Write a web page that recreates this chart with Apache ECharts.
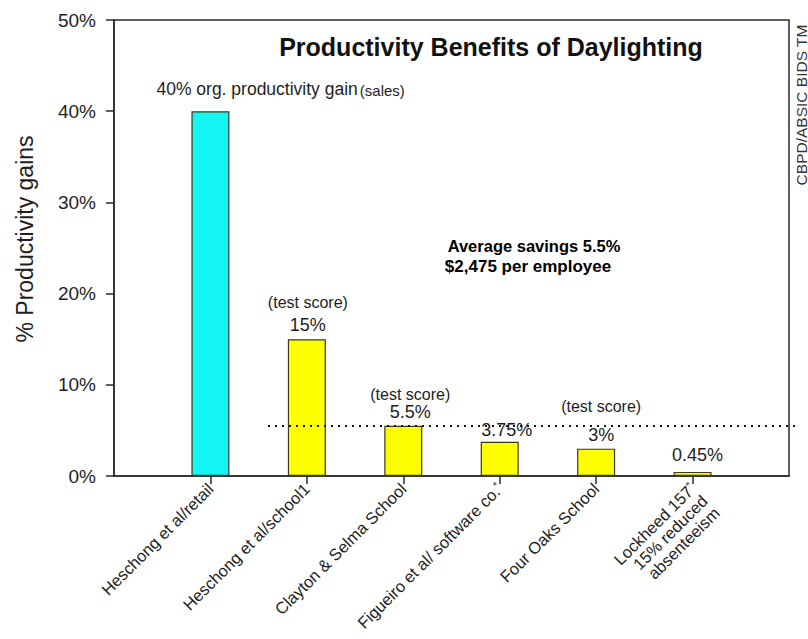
<!DOCTYPE html>
<html>
<head>
<meta charset="utf-8">
<script src="https://cdn.jsdelivr.net/npm/echarts@6/dist/echarts.min.js"></script>
<style>
html,body{margin:0;padding:0;background:#fff;}
#chart{width:808px;height:639px;}
</style>
</head>
<body>
<div id="chart"></div>
<script>
// ---- data ----
const categories = [
  'Heschong et al/retail',
  'Heschong et al/school1',
  'Clayton & Selma School',
  'Figueiro et al/ software co.*',
  'Four Oaks School',
  'Lockheed 157*\n15% reduced\nabsenteeism'
];
const values = [40, 15, 5.5, 3.75, 3, 0.45];
const valueLabels = ['40% org. productivity gain', '15%', '5.5%', '3.75%', '3%', '0.45%'];
const noteLabels = ['(sales)', '(test score)', '(test score)', '', '(test score)', ''];
const yTicks = [0, 10, 20, 30, 40, 50];
const averageValue = 5.5;
const titleText = 'Productivity Benefits of Daylighting';
const averageNote = ['Average savings 5.5%', '$2,475 per employee'];
const yAxisName = '% Productivity gains';
const creditText = 'CBPD/ABSIC BIDS TM';

// ---- build ----
const FONT = '"Liberation Sans", Arial, Helvetica, sans-serif';
const TXT = '#1e1e1e';
const axisCats = [''].concat(categories, ['']);

function labelFor(i) {
  const v = valueLabels[i], n = noteLabels[i];
  if (i === 0) {
    return {
      show: true, position: [-35, -22], align: 'left', verticalAlign: 'middle',
      formatter: '{m|' + v + '}{s|' + n + '}'
    };
  }
  const offsets = [null, [1, 0], [7, 0], [7, 2], [5, 0], [5, -3]];
  const noteStyle = [null, 'n24', 'n12', null, 'n35', null];
  return {
    show: true, position: 'top', distance: 3, offset: offsets[i],
    formatter: n ? '{' + noteStyle[i] + '|' + n + '}\n{v|' + v + '}' : '{v|' + v + '}'
  };
}

const barData = [{ value: '-' }];
values.forEach(function (v, i) {
  barData.push({
    value: v,
    itemStyle: { color: i === 0 ? '#14f4f4' : '#ffff00' },
    label: labelFor(i)
  });
});
barData.push({ value: '-' });

function xLabelFormatter(val) {
  if (!val) return '';
  const lines = val.split('\n');
  const fmt = lines.map(function (l) { return l.replace('*', '{s|*}'); });
  if (lines.length === 3) return '\n\n' + fmt.join('\n');
  return fmt.join('\n');
}

const chart = echarts.init(document.getElementById('chart'), null, { renderer: 'svg' });
chart.setOption({
  animation: false,
  backgroundColor: '#ffffff',
  textStyle: { fontFamily: FONT },
  grid: {
    left: 114, right: 19, top: 20, bottom: 163,
    show: true, borderColor: '#2a2a2a', borderWidth: 1.5, backgroundColor: 'transparent'
  },
  xAxis: {
    type: 'category',
    data: axisCats,
    boundaryGap: false,
    axisLine: { show: true, lineStyle: { color: '#2a2a2a', width: 1.5 } },
    axisTick: {
      show: true, length: 8, lineStyle: { color: '#2a2a2a', width: 1.5 },
      interval: function (i) { return i > 0 && i < axisCats.length - 1; }
    },
    axisLabel: {
      interval: 0, rotate: 45, margin: 10, fontSize: 16.5, color: TXT, fontFamily: FONT,
      formatter: xLabelFormatter,
      rich: { s: { fontSize: 10, verticalAlign: 'top', color: TXT, fontFamily: FONT } }
    },
    splitLine: { show: false }
  },
  yAxis: {
    type: 'value',
    min: yTicks[0], max: yTicks[yTicks.length - 1], interval: yTicks[1] - yTicks[0],
    name: yAxisName, nameLocation: 'middle', nameGap: 78, nameRotate: 90,
    nameTextStyle: { fontSize: 23, color: TXT, fontFamily: FONT, padding: [0, 0, 0, 18] },
    axisLine: { show: true, lineStyle: { color: '#2a2a2a', width: 1.5 } },
    axisTick: { show: true, inside: false, length: 8, lineStyle: { color: '#2a2a2a', width: 1.5 } },
    axisLabel: { fontSize: 19, color: TXT, margin: 18, fontFamily: FONT, formatter: '{value}%' },
    splitLine: { show: false }
  },
  series: [{
    type: 'bar',
    data: barData,
    barWidth: 38,
    itemStyle: { borderColor: '#3a3a1a', borderWidth: 1.2 },
    label: {
      color: TXT, fontFamily: FONT,
      rich: {
        m: { fontSize: 17.5, color: TXT, fontFamily: FONT },
        s: { fontSize: 15, color: TXT, fontFamily: FONT, padding: [2, 0, 0, 2] },
        v: { fontSize: 18, lineHeight: 22, color: TXT, fontFamily: FONT, align: 'center' },
        n24: { fontSize: 16, lineHeight: 24, color: TXT, fontFamily: FONT, align: 'center' },
        n12: { fontSize: 16, lineHeight: 12, color: TXT, fontFamily: FONT, align: 'center' },
        n35: { fontSize: 16, lineHeight: 35, color: TXT, fontFamily: FONT, align: 'center' }
      }
    },
    markLine: {
      silent: true, symbol: 'none',
      lineStyle: { color: '#111', type: [2, 5], width: 2 },
      label: { show: false },
      data: [[{ x: 268, yAxis: averageValue }, { x: 795, yAxis: averageValue }]]
    }
  }],
  graphic: [
    {
      type: 'text', x: 491, y: 47,
      style: { text: titleText, font: 'bold 25px ' + FONT, fill: '#111', align: 'center', verticalAlign: 'middle' }
    },
    {
      type: 'text', x: 534, y: 246,
      style: { text: averageNote[0], font: 'bold 16.5px ' + FONT, fill: '#000', align: 'center', verticalAlign: 'middle' }
    },
    {
      type: 'text', x: 528, y: 266,
      style: { text: averageNote[1], font: 'bold 17px ' + FONT, fill: '#000', align: 'center', verticalAlign: 'middle' }
    },
    {
      type: 'text', x: 801, y: 105, rotation: Math.PI / 2,
      style: { text: creditText, font: '15.5px ' + FONT, fill: '#333', align: 'center', verticalAlign: 'middle' }
    }
  ]
});
</script>
</body>
</html>
